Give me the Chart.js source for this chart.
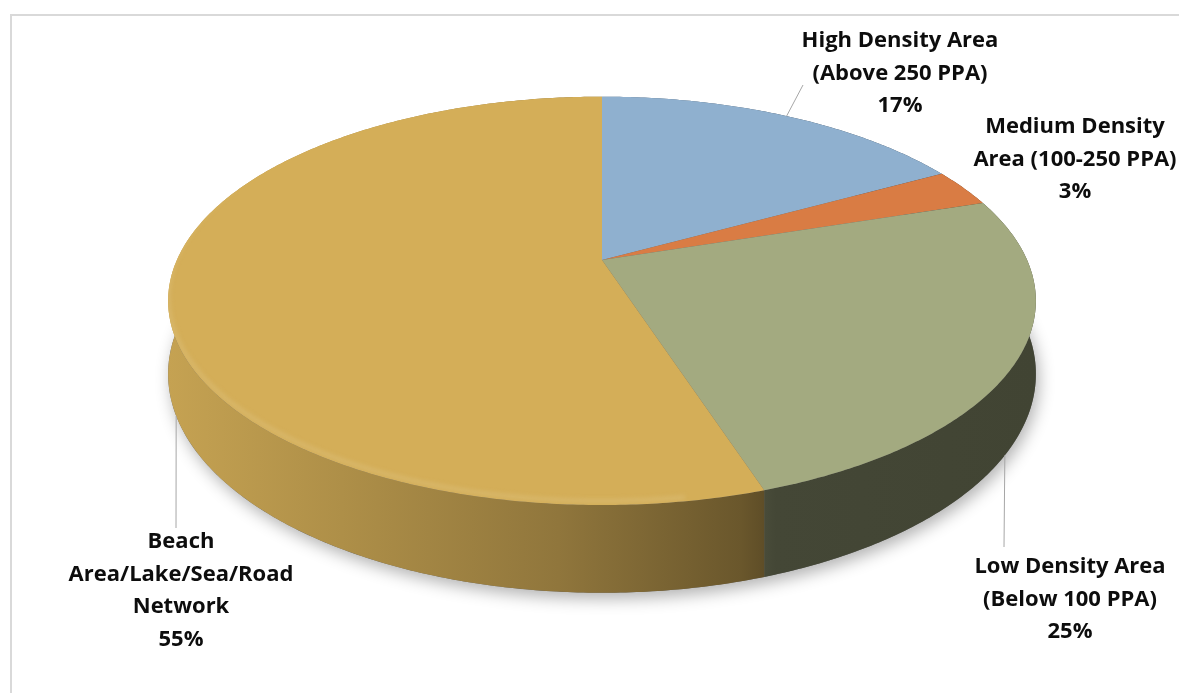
<!DOCTYPE html>
<html lang="en">
<head>
<meta charset="UTF-8">
<title>Land use share</title>
<script src="https://cdn.jsdelivr.net/npm/chart.js"></script>
<style>
  html, body { margin: 0; padding: 0; overflow: hidden; background: #fff; }
  .frame { position: absolute; left: 10px; top: 14px; width: 1300px; height: 800px; border: 2px solid #d9d9d9; }
  .wrap { position: absolute; left: 0; top: 0; width: 1179px; height: 693px; }
</style>
</head>
<body>
<div class="frame"></div>
<div class="wrap"><canvas id="chart"></canvas></div>
<script>
const categories = ['High Density Area (Above 250 PPA)', 'Medium Density Area (100-250 PPA)', 'Low Density Area (Below 100 PPA)', 'Beach Area/Lake/Sea/Road Network'];
const shares = [17, 3, 25, 55];
const labelLines = [
  ['High Density Area', '(Above 250 PPA)'],
  ['Medium Density', 'Area (100-250 PPA)'],
  ['Low Density Area', '(Below 100 PPA)'],
  ['Beach', 'Area/Lake/Sea/Road', 'Network']
];
const sliceColors = ['#8fb0cf', '#d97c44', '#a3aa80', '#d4ae58'];

// where the data labels sit (center x, first baseline) and where their leader lines end
const labelSpots = [
  { x: 900, y: 47, lead: { x: 803, y: 85 } },
  { x: 1075, y: 133, lead: null },
  { x: 1070, y: 573, lead: { x: 1004, y: 547 } },
  { x: 181, y: 548, lead: { x: 176, y: 528 } }
];

const TILT = 0.2;

function shade(hex, f) {
  const n = parseInt(hex.slice(1), 16);
  const r = (n >> 16) & 255, g = (n >> 8) & 255, b = n & 255;
  const m = v => Math.max(0, Math.min(255, Math.round(f >= 1 ? v + (255 - v) * (f - 1) : v * f)));
  return 'rgb(' + m(r) + ',' + m(g) + ',' + m(b) + ')';
}

const pie3d = {
  id: 'pie3d',
  beforeDatasetsDraw(chart) {
    const ctx = chart.ctx;
    const arcs = chart.getDatasetMeta(0).data;
    const R = arcs[0].outerRadius, cx = arcs[0].x, cy = arcs[0].y;
    const A = R * 1.635, B = R * 0.754, H = R * 0.27;

    function proj(a, drop) {
      const u = Math.cos(a), w = -Math.sin(a);
      const q = 1 + TILT * w;
      return { x: cx + A * u / q, y: cy - B * w / q + (drop ? H / q : 0) };
    }
    function samples(a0, a1) {
      const n = Math.max(2, Math.ceil((a1 - a0) / 0.01));
      const out = [];
      for (let i = 0; i <= n; i++) out.push(a0 + (a1 - a0) * i / n);
      return out;
    }
    const full = samples(-Math.PI / 2, Math.PI * 1.5);
    let minX = Infinity, maxX = -Infinity;
    full.forEach(a => { const p = proj(a); minX = Math.min(minX, p.x); maxX = Math.max(maxX, p.x); });

    ctx.save();
    // soft shadow under the disc
    ctx.beginPath();
    full.forEach((a, i) => { const p = proj(a, true); i ? ctx.lineTo(p.x, p.y) : ctx.moveTo(p.x, p.y); });
    ctx.closePath();
    ctx.shadowColor = 'rgba(0,0,0,0.3)';
    ctx.shadowBlur = 16;
    ctx.shadowOffsetX = 3;
    ctx.shadowOffsetY = 6;
    ctx.fillStyle = '#666';
    ctx.fill();
    ctx.restore();

    // side walls
    arcs.forEach((arc, i) => {
      const pts = samples(arc.startAngle, arc.endAngle);
      const grad = ctx.createLinearGradient(minX, 0, maxX, 0);
      const c = sliceColors[i];
      grad.addColorStop(0, shade(c, 0.93));
      grad.addColorStop(0.2, shade(c, 0.82));
      grad.addColorStop(0.45, shade(c, 0.68));
      grad.addColorStop(0.66, shade(c, 0.5));
      grad.addColorStop(0.7, shade(c, 0.42));
      grad.addColorStop(1, shade(c, 0.4));
      ctx.beginPath();
      pts.forEach((a, k) => { const p = proj(a); k ? ctx.lineTo(p.x, p.y) : ctx.moveTo(p.x, p.y); });
      pts.slice().reverse().forEach(a => { const p = proj(a, true); ctx.lineTo(p.x, p.y); });
      ctx.closePath();
      ctx.fillStyle = grad;
      ctx.fill();
    });

    // top faces
    arcs.forEach((arc, i) => {
      ctx.beginPath();
      ctx.moveTo(cx, cy);
      samples(arc.startAngle, arc.endAngle).forEach(a => { const p = proj(a); ctx.lineTo(p.x, p.y); });
      ctx.closePath();
      ctx.fillStyle = sliceColors[i];
      ctx.fill();
    });

    // bevel highlight on the front-left rim
    ctx.save();
    ctx.beginPath();
    full.forEach((a, i) => { const p = proj(a); i ? ctx.lineTo(p.x, p.y) : ctx.moveTo(p.x, p.y); });
    ctx.closePath();
    ctx.clip();
    ctx.filter = 'blur(2px)';
    ctx.globalAlpha = 0.8;
    arcs.forEach((arc, i) => {
      const a0 = Math.max(arc.startAngle, Math.PI * 0.45), a1 = Math.min(arc.endAngle, Math.PI * 1.12);
      if (a1 <= a0) return;
      ctx.beginPath();
      samples(a0, a1).forEach((a, k) => { const p = proj(a); k ? ctx.lineTo(p.x, p.y - 4) : ctx.moveTo(p.x, p.y - 4); });
      ctx.strokeStyle = shade(sliceColors[i], 1.15);
      ctx.lineWidth = 4;
      ctx.stroke();
    });
    ctx.restore();

    // labels and leader lines
    ctx.save();
    ctx.font = 'bold 22px "Open Sans"';
    ctx.textAlign = 'center';
    ctx.textBaseline = 'alphabetic';
    arcs.forEach((arc, i) => {
      const spot = labelSpots[i];
      if (spot.lead) {
        const mid = (arc.startAngle + arc.endAngle) / 2;
        const front = Math.sin(mid) > 0;
        let best = proj(mid, front);
        if (front) {
          // front slices: start on the bottom edge straight above the label
          samples(arc.startAngle, arc.endAngle).forEach(a => {
            if (Math.sin(a) <= 0) return;
            const p = proj(a, true);
            if (Math.abs(p.x - spot.lead.x) < Math.abs(best.x - spot.lead.x)) best = p;
          });
        }
        ctx.beginPath();
        ctx.moveTo(best.x, best.y);
        ctx.lineTo(spot.lead.x, spot.lead.y);
        ctx.strokeStyle = '#a6a6a6';
        ctx.lineWidth = 1;
        ctx.stroke();
      }
      ctx.fillStyle = '#0d0d0d';
      const lines = labelLines[i].concat([shares[i] + '%']);
      lines.forEach((t, k) => ctx.fillText(t, spot.x, spot.y + k * 32.5));
    });
    ctx.restore();
    return false;
  }
};

new Chart(document.getElementById('chart'), {
  type: 'pie',
  data: {
    labels: categories,
    datasets: [{ data: shares, backgroundColor: sliceColors, borderWidth: 0 }]
  },
  options: {
    responsive: true,
    maintainAspectRatio: false,
    animation: false,
    layout: { padding: { left: 25, right: 0, top: 0, bottom: 173 } },
    plugins: { legend: { display: false }, tooltip: { enabled: false } }
  },
  plugins: [pie3d]
});
</script>
</body>
</html>
